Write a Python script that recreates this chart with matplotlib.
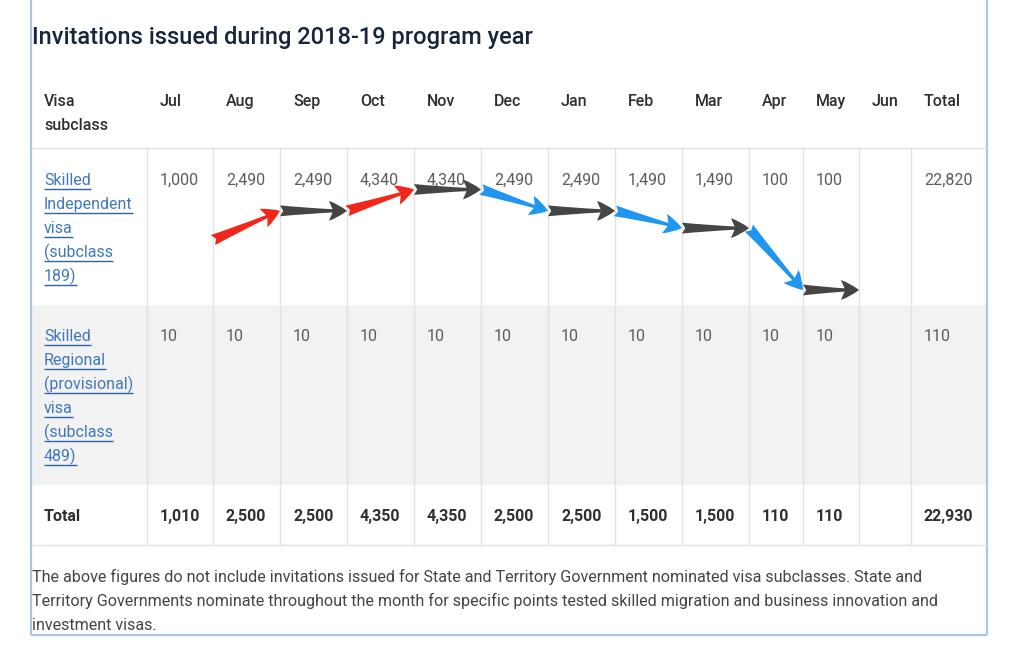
import matplotlib
matplotlib.use("Agg")
import matplotlib.pyplot as plt

# ---------------- data ----------------
title = "Invitations issued during 2018-19 program year"
months = ["Jul", "Aug", "Sep", "Oct", "Nov", "Dec", "Jan", "Feb", "Mar", "Apr", "May", "Jun"]
label_189 = ["Skilled", "Independent", "visa", "(subclass", "189)"]
label_489 = ["Skilled", "Regional", "(provisional)", "visa", "(subclass", "489)"]
values_189 = [1000, 2490, 2490, 4340, 4340, 2490, 2490, 1490, 1490, 100, 100, None]
values_489 = [10, 10, 10, 10, 10, 10, 10, 10, 10, 10, 10, None]
values_total = [1010, 2500, 2500, 4350, 4350, 2500, 2500, 1500, 1500, 110, 110, None]
total_189 = 22820
total_489 = 110
total_all = 22930
footnote = [
    "The above figures do not include invitations issued for State and Territory Government nominated visa subclasses. State and",
    "Territory Governments nominate throughout the month for specific points tested skilled migration and business innovation and",
    "investment visas.",
]

# ---------------- layout (pixels) ----------------
W, H = 1011, 649
col_edges = [31, 147, 213, 280, 347, 414, 481, 548, 615, 682, 749, 803, 859, 911, 987]
pad = 13
FAM = ["Roboto", "DejaVu Sans"]
fs_body = 11.5

fig = plt.figure(figsize=(W / 100, H / 100), dpi=100)
fig.patch.set_facecolor("white")
ax = fig.add_axes([0, 0, 1, 1])
ax.set_xlim(0, W)
ax.set_ylim(H, 0)
ax.axis("off")

# frame
frame_c = "#a9c6ea"
ax.plot([31, 31], [0, 635], color=frame_c, lw=1.6, solid_capstyle="butt")
ax.plot([987, 987], [0, 635], color=frame_c, lw=1.6, solid_capstyle="butt")
ax.plot([31, 987], [635, 635], color=frame_c, lw=1.6, solid_capstyle="butt")

# row backgrounds & grid
ax.fill_between([32, 986], 305, 485, color="#f2f2f2", lw=0)
grid_c = "#e2e2e2"
for yy in (148, 545):
    ax.plot([32, 986], [yy, yy], color=grid_c, lw=1.0)
for xx in col_edges[1:-1]:
    ax.plot([xx, xx], [148, 545], color=grid_c, lw=1.0)

# title
ax.text(32, 44, title, fontsize=17.05, fontweight="medium", color="#17263a",
        family=FAM, va="baseline", ha="left")

# header
hdr_c = "#2f2f2f"
ax.text(44, 106, "Visa", fontsize=fs_body, fontweight="medium", color=hdr_c, family=FAM, va="baseline")
ax.text(44, 130, "subclass", fontsize=fs_body, fontweight="medium", color=hdr_c, family=FAM, va="baseline")
for i, m in enumerate(months):
    ax.text(col_edges[i + 1] + pad, 106, m, fontsize=fs_body, fontweight="medium",
            color=hdr_c, family=FAM, va="baseline")
ax.text(col_edges[13] + pad, 106, "Total", fontsize=fs_body, fontweight="medium",
        color=hdr_c, family=FAM, va="baseline")

# link labels with underline
link_c = "#3f78bf"
link_texts = []
def link_block(lines, y0):
    for k, s in enumerate(lines):
        t = ax.text(44, y0 + 24 * k, s, fontsize=fs_body, fontweight="normal", color=link_c,
                    family=FAM, va="baseline")
        link_texts.append((t, y0 + 24 * k + 4))

link_block(label_189, 185)
link_block(label_489, 341)

num_c = "#5c5c5c"
def fmt(v):
    return "" if v is None else f"{v:,}"

for i in range(12):
    x = col_edges[i + 1] + pad
    ax.text(x, 185, fmt(values_189[i]), fontsize=fs_body, fontweight="normal", color=num_c,
            family=FAM, va="baseline")
    ax.text(x, 341, fmt(values_489[i]), fontsize=fs_body, fontweight="normal", color=num_c,
            family=FAM, va="baseline")
    ax.text(x, 521, fmt(values_total[i]), fontsize=fs_body, fontweight="bold", color=hdr_c,
            family=FAM, va="baseline")
xt = col_edges[13] + pad
ax.text(xt, 185, fmt(total_189), fontsize=fs_body, fontweight="normal", color=num_c, family=FAM, va="baseline")
ax.text(xt, 341, fmt(total_489), fontsize=fs_body, fontweight="normal", color=num_c, family=FAM, va="baseline")
ax.text(xt, 521, fmt(total_all), fontsize=fs_body, fontweight="bold", color=hdr_c, family=FAM, va="baseline")
ax.text(44, 521, "Total", fontsize=fs_body, fontweight="bold", color=hdr_c, family=FAM, va="baseline")

# footnote
for k, s in enumerate(footnote):
    ax.text(32, 582 + 24 * k, s, fontsize=11.65, fontweight="normal", color="#444444",
            family=FAM, va="baseline")

# underlines (measure rendered text)
fig.canvas.draw()
r = fig.canvas.get_renderer()
for t, yu in link_texts:
    bb = t.get_window_extent(renderer=r)
    ax.plot([bb.x0, bb.x1], [yu, yu], color="#2d64a6", lw=1.0, solid_capstyle="butt")

# ---------------- arrows overlay: value scale (fourth root) ----------------
top_px, bot_px = 148, 305
c, a = 20.28, 354.1
v_top = ((a - top_px) / c) ** 4
v_bot = ((a - bot_px) / c) ** 4
ax2 = fig.add_axes([0, (H - bot_px) / H, 1, (bot_px - top_px) / H])
ax2.set_xlim(0, W)
ax2.set_yscale("function", functions=(lambda v: abs(v) ** 0.25, lambda f: f ** 4))
ax2.set_ylim(v_bot, v_top)
ax2.axis("off")
ax2.patch.set_alpha(0)

right_edges = col_edges[2:14]
colors = {"up": "#f2261b", "flat": "#454545", "down": "#2196f0"}
for k in range(len(values_189) - 1):
    v0, v1 = values_189[k], values_189[k + 1]
    if v0 is None or v1 is None:
        continue
    key = "up" if v1 > v0 else ("down" if v1 < v0 else "flat")
    ax2.annotate("", xy=(right_edges[k + 1], v1), xytext=(right_edges[k], v0),
                 arrowprops=dict(arrowstyle="fancy,head_length=1.0,head_width=1.1,tail_width=0.6",
                                 color=colors[key], shrinkA=0, shrinkB=0, mutation_scale=13, lw=0))

fig.savefig("out.png", dpi=100, facecolor="white")
